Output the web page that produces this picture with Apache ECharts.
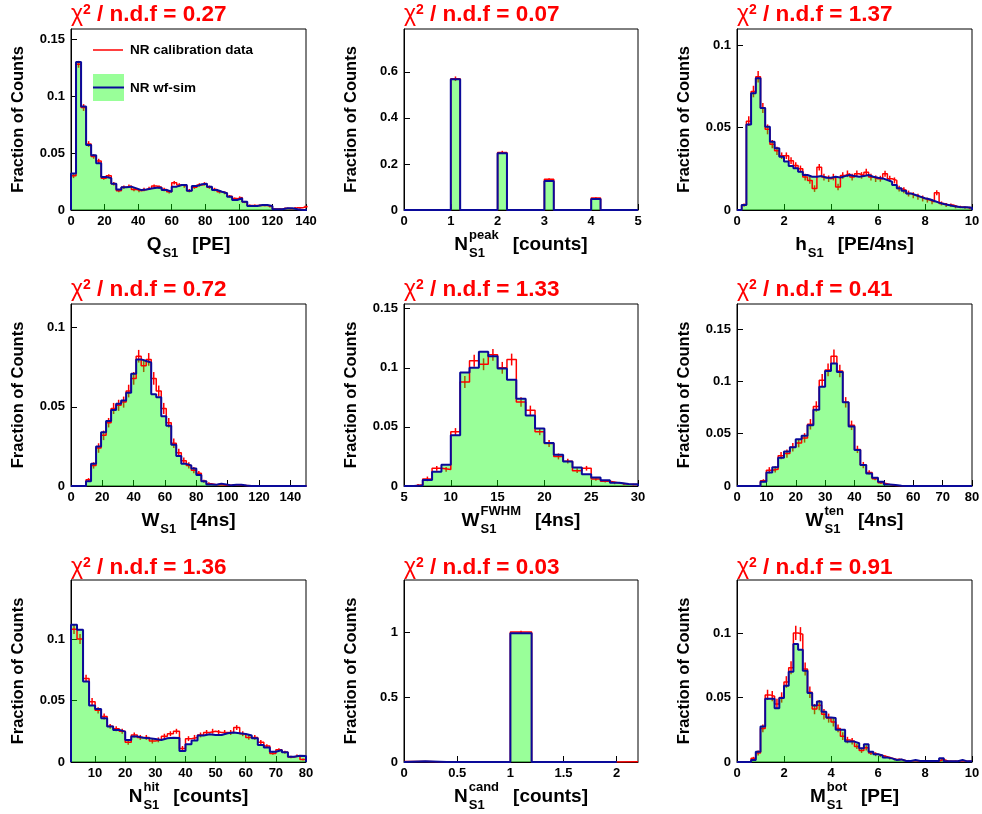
<!DOCTYPE html>
<html><head><meta charset="utf-8">
<script src="https://cdn.jsdelivr.net/npm/echarts@6/dist/echarts.min.js"></script>
<style>html,body{margin:0;padding:0;background:#fff}#c{width:982px;height:814px}</style>
</head><body><div id="c"></div>
<script>
// ---------- data (bins = [first edge, bin width]) ----------
const qS1Bins = [0, 3];
const qS1Sim = [0.032,0.130,0.091,0.057,0.048,0.041,0.029,0.028,0.023,0.018,
 0.020,0.0205,0.019,0.0175,0.018,0.0188,0.0196,0.0196,0.0176,0.016,
 0.0205,0.022,0.022,0.017,0.021,0.0226,0.023,0.0205,0.0176,0.016,
 0.0147,0.0117,0.0088,0.0103,0.0073,0.0035,0.0035,0.0044,0.0044,0.0035,
 0.0006,0.0006,0.0015,0.0015,0.0006,0.0,0.0];
const qS1Data = [0.030,0.128,0.090,0.058,0.047,0.043,0.028,0.030,0.023,0.017,
 0.020,0.021,0.018,0.017,0.018,0.019,0.021,0.020,0.018,0.016,
 0.024,0.022,0.021,0.017,0.020,0.022,0.023,0.020,0.018,0.016,
 0.015,0.012,0.010,0.011,0.007,0.004,0.004,0.004,0.004,0.003,
 0.0008,0.0008,0.0015,0.001,0.002,0.002,0.003];
const qS1Err = [0.002,0.003,0.003,0.0025,0.002,0.002,0.0015,0.0015,0.0015,0.0015,
 0.0015,0.0015,0.0015,0.0015,0.0015,0.0015,0.0015,0.0015,0.0015,0.0015,
 0.0015,0.0015,0.0015,0.0015,0.0015,0.0015,0.0015,0.0015,0.0015,0.0015,
 0.0012,0.0012,0.001,0.001,0.001,0.0008,0.0008,0.0008,0.0008,0.0008,
 0.0005,0.0005,0.0006,0.0005,0.0006,0.0006,0.0008];

const nPeakBins = [0, 0.2];
const nPeakSim = [0,0,0,0,0, 0.568,0,0,0,0, 0.246,0,0,0,0, 0.126,0,0,0,0, 0.048,0,0,0,0];
const nPeakData = [0,0,0,0,0, 0.570,0,0,0,0, 0.250,0,0,0,0, 0.133,0,0,0,0, 0.052,0,0,0,0];
const nPeakErr = [0,0,0,0,0, 0.010,0,0,0,0, 0.007,0,0,0,0, 0.005,0,0,0,0, 0.003,0,0,0,0];

const hS1Bins = [0, 0.2];
const hS1Sim = [0,0.003,0.052,0.071,0.080,0.062,0.0506,0.0415,0.0375,0.0324,
 0.0294,0.0267,0.0253,0.0233,0.0213,0.0202,0.0202,0.0206,0.0196,0.0196,
 0.0202,0.0198,0.0206,0.0213,0.0206,0.0202,0.0206,0.0213,0.0202,0.0196,
 0.0192,0.0182,0.0172,0.0152,0.0132,0.0117,0.0101,0.0091,0.0081,0.0071,
 0.0065,0.0055,0.0045,0.0036,0.003,0.0024,0.002,0.0016,0.0016,0.0014];
const hS1Data = [0,0.003,0.054,0.072,0.081,0.062,0.049,0.040,0.036,0.033,
 0.033,0.030,0.027,0.025,0.020,0.018,0.013,0.026,0.020,0.019,
 0.020,0.014,0.021,0.022,0.020,0.022,0.021,0.023,0.020,0.019,
 0.019,0.022,0.019,0.018,0.013,0.012,0.010,0.009,0.008,0.007,
 0.006,0.005,0.0105,0.004,0.003,0.003,0.002,0.0018,0.0015,0.0012];
const hS1Err = [0,0.001,0.003,0.0035,0.0035,0.003,0.003,0.0025,0.0025,0.002,
 0.002,0.002,0.002,0.002,0.002,0.002,0.002,0.002,0.002,0.002,
 0.002,0.002,0.002,0.002,0.002,0.002,0.002,0.002,0.002,0.002,
 0.0018,0.0018,0.0018,0.0018,0.0018,0.0018,0.0018,0.0018,0.0018,0.0018,
 0.0015,0.0015,0.0015,0.0012,0.0012,0.001,0.001,0.0008,0.0008,0.0008];

const wS1Bins = [0, 3.2];
const wS1Sim = [0,0,0,0.003,0.014,0.025,0.034,0.041,0.048,0.052,
 0.054,0.059,0.071,0.080,0.079,0.078,0.058,0.056,0.044,0.038,
 0.026,0.019,0.014,0.013,0.011,0.007,0.003,0.001,0.0008,0.0015,
 0.001,0.0004,0.0008,0.0008,0.0003,0,0,0,0,0,
 0,0,0,0,0,0,0];
const wS1Data = [0,0,0,0.004,0.013,0.024,0.032,0.040,0.049,0.051,
 0.053,0.060,0.068,0.082,0.076,0.080,0.068,0.060,0.049,0.040,
 0.027,0.021,0.016,0.013,0.010,0.008,0.003,0.0015,0.0008,0.001,
 0.0005,0.0005,0.0008,0.0005,0.0003,0,0,0,0,0,
 0,0,0,0,0,0,0];
const wS1Err = [0,0,0,0.001,0.002,0.003,0.003,0.003,0.0035,0.0035,
 0.0035,0.004,0.004,0.004,0.004,0.004,0.004,0.0035,0.0035,0.003,
 0.003,0.0025,0.002,0.002,0.002,0.0015,0.001,0.0008,0.0005,0.0005,
 0.0004,0.0004,0.0005,0.0004,0.0003,0,0,0,0,0,
 0,0,0,0,0,0,0];

const wFwhmBins = [5, 1];
const wFwhmSim = [0,0.0005,0.005,0.012,0.018,0.043,0.096,0.100,0.1136,0.1097,
 0.0994,0.0898,0.0739,0.0597,0.0486,0.0364,0.0264,0.0207,0.0156,0.0099,
 0.0071,0.0048,0.0028,0.0017,0.0014];
const wFwhmData = [0,0.001,0.006,0.015,0.014,0.046,0.088,0.106,0.103,0.111,
 0.100,0.107,0.071,0.064,0.046,0.036,0.025,0.021,0.013,0.015,
 0.006,0.004,0.0025,0.0015,0.0012];
const wFwhmErr = [0,0.0007,0.002,0.002,0.002,0.003,0.005,0.005,0.005,0.005,
 0.005,0.005,0.004,0.004,0.003,0.003,0.0025,0.002,0.002,0.002,
 0.0015,0.001,0.001,0.0008,0.0007];

const wTenBins = [0, 2];
const wTenSim = [0,0,0,0,0.004,0.013,0.018,0.027,0.033,0.037,
 0.0447,0.048,0.058,0.073,0.095,0.110,0.117,0.109,0.080,0.057,
 0.0345,0.020,0.012,0.008,0.004,0.0015,0.001,0.0003,0,0,
 0,0,0,0,0,0,0,0,0,0];
const wTenData = [0,0,0,0,0.005,0.015,0.016,0.029,0.031,0.037,
 0.041,0.046,0.059,0.076,0.101,0.111,0.124,0.110,0.080,0.058,
 0.035,0.020,0.013,0.007,0.003,0.0015,0.0005,0.0003,0,0,
 0,0,0,0,0,0,0,0,0,0];
const wTenErr = [0,0,0,0,0.0015,0.003,0.003,0.0035,0.004,0.004,
 0.004,0.0045,0.005,0.005,0.006,0.006,0.0065,0.006,0.005,0.0045,
 0.0035,0.003,0.002,0.0015,0.001,0.0008,0.0005,0.0003,0,0,
 0,0,0,0,0,0,0,0,0,0];

const nHitBins = [2, 2];
const nHitSim = [0.1117,0.1076,0.0655,0.0459,0.0432,0.0356,0.0288,0.0261,0.0247,0.0179,
 0.0207,0.0198,0.0193,0.0188,0.0179,0.0193,0.0198,0.0195,0.009,0.0144,
 0.0174,0.0215,0.0226,0.022,0.022,0.0234,0.0239,0.0234,0.0228,0.0215,
 0.0193,0.0139,0.0117,0.0084,0.0098,0.0079,0.0043,0.005,0.0049];
const nHitData = [0.108,0.100,0.068,0.049,0.042,0.037,0.029,0.027,0.025,0.016,
 0.022,0.020,0.020,0.017,0.018,0.021,0.023,0.025,0.011,0.019,
 0.020,0.022,0.024,0.025,0.024,0.024,0.024,0.028,0.023,0.020,
 0.020,0.016,0.013,0.007,0.010,0.008,0.004,0.005,0.002];
const nHitErr = [0.004,0.004,0.003,0.003,0.0025,0.0025,0.002,0.002,0.002,0.002,
 0.002,0.002,0.002,0.002,0.002,0.002,0.002,0.002,0.002,0.002,
 0.002,0.002,0.002,0.002,0.002,0.002,0.002,0.002,0.002,0.002,
 0.002,0.0018,0.0015,0.0012,0.0012,0.0012,0.001,0.001,0.0008];

const nCandBins = [0, 0.2];
const nCandSim = [0.005,0,0,0,0,0.99,0,0,0,0];
const nCandData = [0.004,0,0,0,0,1.0,0,0,0,0,0.001];
const nCandErr = [0.001,0,0,0,0,0.01,0,0,0,0,0.0005];

const mBotBins = [0, 0.2];
const mBotSim = [0,0,0,0.0016,0.008,0.0275,0.049,0.049,0.0417,0.0495,
 0.059,0.070,0.0915,0.087,0.0707,0.0534,0.0438,0.0469,0.039,0.0345,
 0.034,0.0249,0.0249,0.0158,0.0158,0.0145,0.0106,0.0137,0.008,0.006,
 0.005,0.0034,0.0028,0.0016,0.002,0.0008,0.0008,0.0015,0.0008,0.0008,
 0.0008,0.0008,0.0008,0.003,0.0006,0.0006,0.0006,0.0015,0.0005,0.0005];
const mBotData = [0,0,0,0.003,0.007,0.026,0.052,0.051,0.045,0.050,
 0.062,0.073,0.100,0.099,0.072,0.054,0.041,0.044,0.037,0.034,
 0.031,0.026,0.020,0.017,0.016,0.012,0.009,0.011,0.007,0.006,
 0.005,0.004,0.003,0.002,0.002,0.001,0.001,0.001,0.0008,0.0008,
 0.0008,0.0008,0.0008,0.002,0.0006,0.0006,0.0006,0.001,0.0005,0.0005];
const mBotErr = [0,0,0,0.001,0.002,0.003,0.004,0.004,0.004,0.004,
 0.0045,0.005,0.0055,0.0055,0.005,0.0045,0.004,0.004,0.004,0.0035,
 0.0035,0.003,0.003,0.0025,0.0025,0.002,0.002,0.002,0.0015,0.0015,
 0.0012,0.001,0.001,0.0008,0.0008,0.0006,0.0006,0.0006,0.0005,0.0005,
 0.0005,0.0005,0.0005,0.0008,0.0004,0.0004,0.0004,0.0006,0.0004,0.0004];

// axes
const xRanges = [[0,140],[0,5],[0,10],[0,150],[5,30],[0,80],[2,80],[0,2.2],[0,10]];
const yMaxes = [0.159,0.786,0.11,0.115,0.154,0.174,0.148,1.4,0.141];
const xTicks = [[0,20,40,60,80,100,120,140],[0,1,2,3,4,5],[0,2,4,6,8,10],
 [0,20,40,60,80,100,120,140],[5,10,15,20,25,30],[0,10,20,30,40,50,60,70,80],
 [10,20,30,40,50,60,70,80],[0,0.5,1,1.5,2],[0,2,4,6,8,10]];
const yTicks = [[0,0.05,0.1,0.15],[0,0.2,0.4,0.6],[0,0.05,0.1],[0,0.05,0.1],
 [0,0.05,0.1,0.15],[0,0.05,0.1,0.15],[0,0.05,0.1],[0,0.5,1],[0,0.05,0.1]];

// texts
const chiValues = ['0.27','0.07','1.37','0.72','1.33','0.41','1.36','0.03','0.91'];
const xTitleMain = ['Q','N','h','W','W','W','N','N','M'];
const xTitleSup = ['','peak','','','FWHM','ten','hit','cand','bot'];
const xTitleSub = ['S1','S1','S1','S1','S1','S1','S1','S1','S1'];
const xTitleUnit = ['[PE]','[counts]','[PE/4ns]','[4ns]','[4ns]','[4ns]','[counts]','[counts]','[PE]'];
const yTitle = 'Fraction of Counts';
const legendLabels = ['NR calibration data','NR wf-sim'];

// ---------- build ----------
const panels = [
  [qS1Bins,qS1Sim,qS1Data,qS1Err],[nPeakBins,nPeakSim,nPeakData,nPeakErr],[hS1Bins,hS1Sim,hS1Data,hS1Err],
  [wS1Bins,wS1Sim,wS1Data,wS1Err],[wFwhmBins,wFwhmSim,wFwhmData,wFwhmErr],[wTenBins,wTenSim,wTenData,wTenErr],
  [nHitBins,nHitSim,nHitData,nHitErr],[nCandBins,nCandSim,nCandData,nCandErr],[mBotBins,mBotSim,mBotData,mBotErr]
];
const FONT = '"Liberation Sans", Arial, Helvetica, sans-serif';
const RED = '#ff0000', BLUE = '#0a0a9a', GREEN = 'rgba(0,255,0,0.4)';
const colLeft = [71,404,737], colWidth = [235,234,235];
const rowTop = [29,304,580], rowHeight = [181,182,182], titleY = [15,290,568];

const mctx = document.createElement('canvas').getContext('2d');
function tw(t, size){ mctx.font = 'bold ' + size + 'px ' + FONT; return mctx.measureText(t).width; }
function txt(x, y, text, size, opts){
  return Object.assign({type:'text', x:x, y:y, silent:true,
    style:{text:text, fill:'#000', fontSize:size, fontWeight:'bold', fontFamily:FONT, align:'left', verticalAlign:'middle'}}, opts||{});
}

const grids=[], xAxes=[], yAxes=[], series=[], graphics=[];
panels.forEach((p,i)=>{
  const [bins, sim, dat, err] = p;
  const e0 = bins[0], w = bins[1];
  const c = i%3, r = Math.floor(i/3);
  const L = colLeft[c], T = rowTop[r], W = colWidth[c], H = rowHeight[r];
  grids.push({left:L, top:T, width:W, height:H, show:true, borderColor:'#000', borderWidth:1,
    backgroundColor:'transparent', containLabel:false, outerBoundsMode:'none'});
  const lbl = {fontSize:13, fontWeight:'bold', fontFamily:FONT, color:'#000'};
  xAxes.push({type:'value', gridIndex:i, min:xRanges[i][0], max:xRanges[i][1],
    axisLine:{show:true, onZero:false, lineStyle:{color:'#000', width:1}},
    axisTick:{show:true, inside:true, length:6, customValues:xTicks[i], lineStyle:{color:'#000', width:1}},
    axisLabel:Object.assign({show:true, margin:5, customValues:xTicks[i]}, lbl),
    splitLine:{show:false}});
  yAxes.push({type:'value', gridIndex:i, min:0, max:yMaxes[i],
    axisLine:{show:true, onZero:false, lineStyle:{color:'#000', width:1}},
    axisTick:{show:true, inside:true, length:6, customValues:yTicks[i], lineStyle:{color:'#000', width:1}},
    axisLabel:Object.assign({show:true, margin:6, customValues:yTicks[i]}, lbl),
    splitLine:{show:false}});
  // data step line
  const dPts = dat.map((v,k)=>[e0+w*k, v]);
  dPts.push([e0+w*dat.length, dat[dat.length-1]]);
  series.push({type:'line', xAxisIndex:i, yAxisIndex:i, data:dPts, step:'end', showSymbol:false, symbol:'none',
    lineStyle:{color:RED, width:1.5}, silent:true, animation:false});
  // error bars
  const eb = [];
  dat.forEach((v,k)=>{ if (err[k] > 0) eb.push([e0+w*(k+0.5), v, err[k]]); });
  series.push({type:'custom', xAxisIndex:i, yAxisIndex:i, data:eb, silent:true, animation:false,
    encode:{x:0, y:1},
    renderItem:function(params, api){
      const x = api.value(0), y = api.value(1), e = api.value(2);
      const a = api.coord([x, Math.max(0, y-e)]), b = api.coord([x, y+e]);
      return {type:'line', shape:{x1:a[0], y1:a[1], x2:b[0], y2:b[1]}, style:{stroke:RED, lineWidth:1.5}};
    }});
  // simulation filled step
  const sPts = [[e0, 0]];
  sim.forEach((v,k)=>sPts.push([e0+w*k, v]));
  sPts.push([e0+w*sim.length, sim[sim.length-1]]);
  sPts.push([e0+w*sim.length, 0]);
  series.push({type:'line', xAxisIndex:i, yAxisIndex:i, data:sPts, step:'end', showSymbol:false, symbol:'none',
    lineStyle:{color:BLUE, width:2}, areaStyle:{color:GREEN, opacity:1}, silent:true, animation:false});

  // chi2 title
  graphics.push({type:'text', x:L, y:titleY[r], silent:true, style:{
    text:'{c|χ}{s|2}{t| / n.d.f = ' + chiValues[i] + '}', align:'left', verticalAlign:'middle',
    rich:{c:{fontSize:23, fontFamily:FONT, fill:RED},
          s:{fontSize:14, fontWeight:'bold', fontFamily:FONT, fill:RED, verticalAlign:'top'},
          t:{fontSize:22.5, fontWeight:'bold', fontFamily:FONT, fill:RED}}}});
  // y title
  graphics.push(txt(L-53, T+H/2, yTitle, 16.5, {rotation:Math.PI/2}));
  graphics[graphics.length-1].style.align = 'center';
  // x title
  const wm = tw(xTitleMain[i],19), wsup = tw(xTitleSup[i],13), wsub = tw(xTitleSub[i],13), wu = tw(xTitleUnit[i],19);
  const total = wm + Math.max(wsup, wsub) + 15 + wu;
  const x0 = L + W/2 - total/2, yc = T + H + 35;
  graphics.push(txt(x0, yc, xTitleMain[i], 19));
  if (xTitleSup[i]) graphics.push(txt(x0+wm+1, yc-10, xTitleSup[i], 13));
  graphics.push(txt(x0+wm+1, yc+8, xTitleSub[i], 13));
  graphics.push(txt(x0+wm+Math.max(wsup,wsub)+15, yc, xTitleUnit[i], 19));
});

// legend (panel 1)
graphics.push({type:'line', silent:true, shape:{x1:93, y1:50, x2:123, y2:50}, style:{stroke:RED, lineWidth:1.5}});
graphics.push({type:'rect', silent:true, shape:{x:93, y:74, width:31, height:27}, style:{fill:GREEN}});
graphics.push({type:'line', silent:true, shape:{x1:93, y1:87.5, x2:124, y2:87.5}, style:{stroke:BLUE, lineWidth:2}});
graphics.push(txt(130, 50, legendLabels[0], 13.5));
graphics.push(txt(130, 88, legendLabels[1], 13.5));

const chart = echarts.init(document.getElementById('c'), null, {renderer:'canvas'});
chart.setOption({animation:false, backgroundColor:'#fff', grid:grids, xAxis:xAxes, yAxis:yAxes, series:series, graphic:graphics});
</script></body></html>
